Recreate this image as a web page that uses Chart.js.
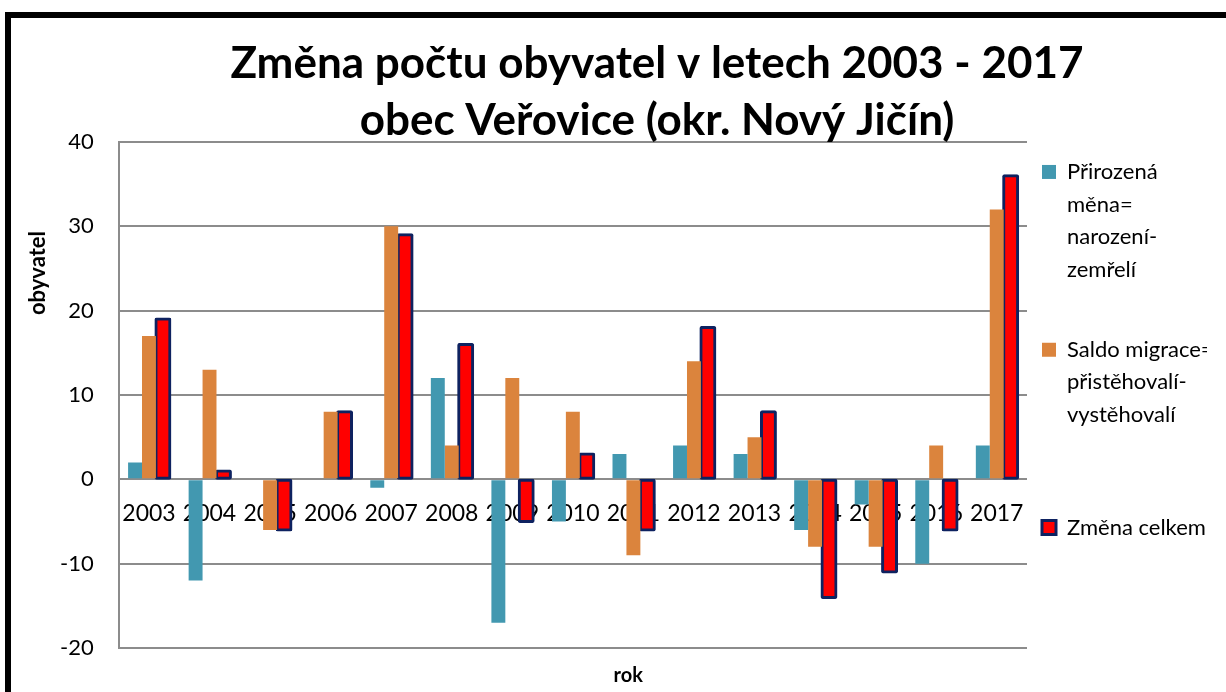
<!DOCTYPE html>
<html>
<head>
<meta charset="utf-8">
<script src="https://cdn.jsdelivr.net/npm/chart.js@4.4.1/dist/chart.umd.min.js"></script>
<style>
  html, body { margin: 0; padding: 0; background: #fff; width: 1226px; height: 692px; overflow: hidden; }
  #frame { position: absolute; left: 5px; top: 12px; width: 1400px; height: 900px;
           border-left: 6px solid #000; border-top: 6px solid #000; box-sizing: border-box; z-index: 0; }
  #wrap { position: absolute; left: 0; top: 0; width: 1226px; height: 692px; z-index: 1; }
</style>
</head>
<body>
<div id="frame"></div>
<div id="wrap"><canvas id="c" width="1226" height="692"></canvas></div>
<script>
// ---- data ----
const years = ['2003','2004','2005','2006','2007','2008','2009','2010','2011','2012','2013','2014','2015','2016','2017'];
const prirozenaMena = [2, -12, 0, 0, -1, 12, -17, -5, 3, 4, 3, -6, -3, -10, 4];
const saldoMigrace  = [17, 13, -6, 8, 30, 4, 12, 8, -9, 14, 5, -8, -8, 4, 32];
const zmenaCelkem   = [19, 1, -6, 8, 29, 16, -5, 3, -6, 18, 8, -14, -11, -6, 36];
const yTicks = [-20, -10, 0, 10, 20, 30, 40];
const seriesNames = ['Přirozená měna= narození-zemřelí', 'Saldo migrace= přistěhovalí-vystěhovalí', 'Změna celkem'];
const legendLines = [
  ['Přirozená', 'měna=', 'narození-', 'zemřelí', ''],
  ['Saldo migrace=', 'přistěhovalí-', 'vystěhovalí', '', ''],
  ['Změna celkem']
];
const titleLines = ['Změna počtu obyvatel v letech 2003 - 2017', 'obec Veřovice (okr. Nový Jičín)'];
const xTitle = 'rok';
const yTitle = 'obyvatel';

// ---- styles ----
const FONT = 'Lato';
const TEAL = '#4298B0';
const ORANGE = '#DB843D';
const RED = '#FF0000';
const NAVY = '#0E2260';
const GRID = '#8C8C8C';

const extraText = {
  id: 'extraText',
  afterLayout(chart) {
    if (chart.titleBlock) { chart.titleBlock.left = 107; }
  },
  afterDraw(chart) {
    const ctx = chart.ctx, a = chart.chartArea;
    ctx.save();
    ctx.fillStyle = '#000';
    ctx.textAlign = 'center';
    ctx.textBaseline = 'middle';
    ctx.font = 'bold 22px ' + FONT;
    ctx.translate(a.left - 81, a.top + (a.bottom - a.top) * 0.259);
    ctx.rotate(-Math.PI / 2);
    ctx.fillText(yTitle, 0, 0);
    ctx.restore();
    ctx.save();
    ctx.fillStyle = '#000';
    ctx.textAlign = 'center';
    ctx.textBaseline = 'middle';
    ctx.font = 'bold 20px ' + FONT;
    ctx.fillText(xTitle, a.left + (a.right - a.left) * 0.561, a.bottom + 28);
    ctx.restore();
  }
};

function build() {
  new Chart(document.getElementById('c'), {
    type: 'bar',
    data: {
      labels: years,
      datasets: [
        { label: seriesNames[0], data: prirozenaMena, backgroundColor: TEAL, borderWidth: 0 },
        { label: seriesNames[1], data: saldoMigrace, backgroundColor: ORANGE, borderWidth: 0 },
        { label: seriesNames[2], data: zmenaCelkem, backgroundColor: RED, borderColor: NAVY,
          borderWidth: 3, borderSkipped: false, borderRadius: 2, inflateAmount: 1.5 }
      ]
    },
    options: {
      responsive: false,
      animation: false,
      devicePixelRatio: 1,
      categoryPercentage: 0.69,
      barPercentage: 1,
      layout: { padding: { left: 35, right: 19, top: 0, bottom: 44 } },
      scales: {
        x: {
          position: { y: 0 },
          z: 1,
          offset: true,
          grid: { display: false, drawTicks: false },
          border: { display: false },
          ticks: { font: { family: FONT, size: 23 }, color: '#000', padding: 20, autoSkip: false, maxRotation: 0 }
        },
        y: {
          min: -20, max: 40,
          afterBuildTicks: s => { s.ticks = yTicks.map(v => ({ value: v })); },
          grid: { color: GRID, lineWidth: 2, drawTicks: false },
          border: { display: true, color: GRID, width: 2 },
          ticks: { font: { family: FONT, size: 22 }, color: '#000', padding: 25 }
        }
      },
      plugins: {
        tooltip: { enabled: false },
        title: {
          display: true,
          text: titleLines,
          color: '#000',
          font: { family: FONT, size: 44, weight: 'bold', lineHeight: 1.295 },
          padding: { top: 35, bottom: -7 }
        },
        legend: {
          position: 'right',
          align: 'start',
          fullSize: false,
          maxWidth: 180,
          title: { display: true, text: ' ', padding: 0, font: { size: 4, lineHeight: 1 } },
          labels: {
            boxWidth: 14, boxHeight: 14, padding: 15, color: '#000',
            font: { family: FONT, size: 22, lineHeight: 1.48 },
            generateLabels: chart => chart.data.datasets.map((ds, i) => ({
              text: legendLines[i],
              fillStyle: ds.backgroundColor,
              strokeStyle: ds.borderColor || ds.backgroundColor,
              lineWidth: ds.borderWidth || 0,
              fontColor: '#000',
              hidden: false,
              datasetIndex: i
            }))
          }
        }
      }
    },
    plugins: [extraText]
  });
}

const loads = [
  document.fonts.load('bold 44px ' + FONT),
  document.fonts.load('23px ' + FONT),
  document.fonts.load('bold 20px ' + FONT)
];
Promise.all(loads).then(build, build);
</script>
</body>
</html>
